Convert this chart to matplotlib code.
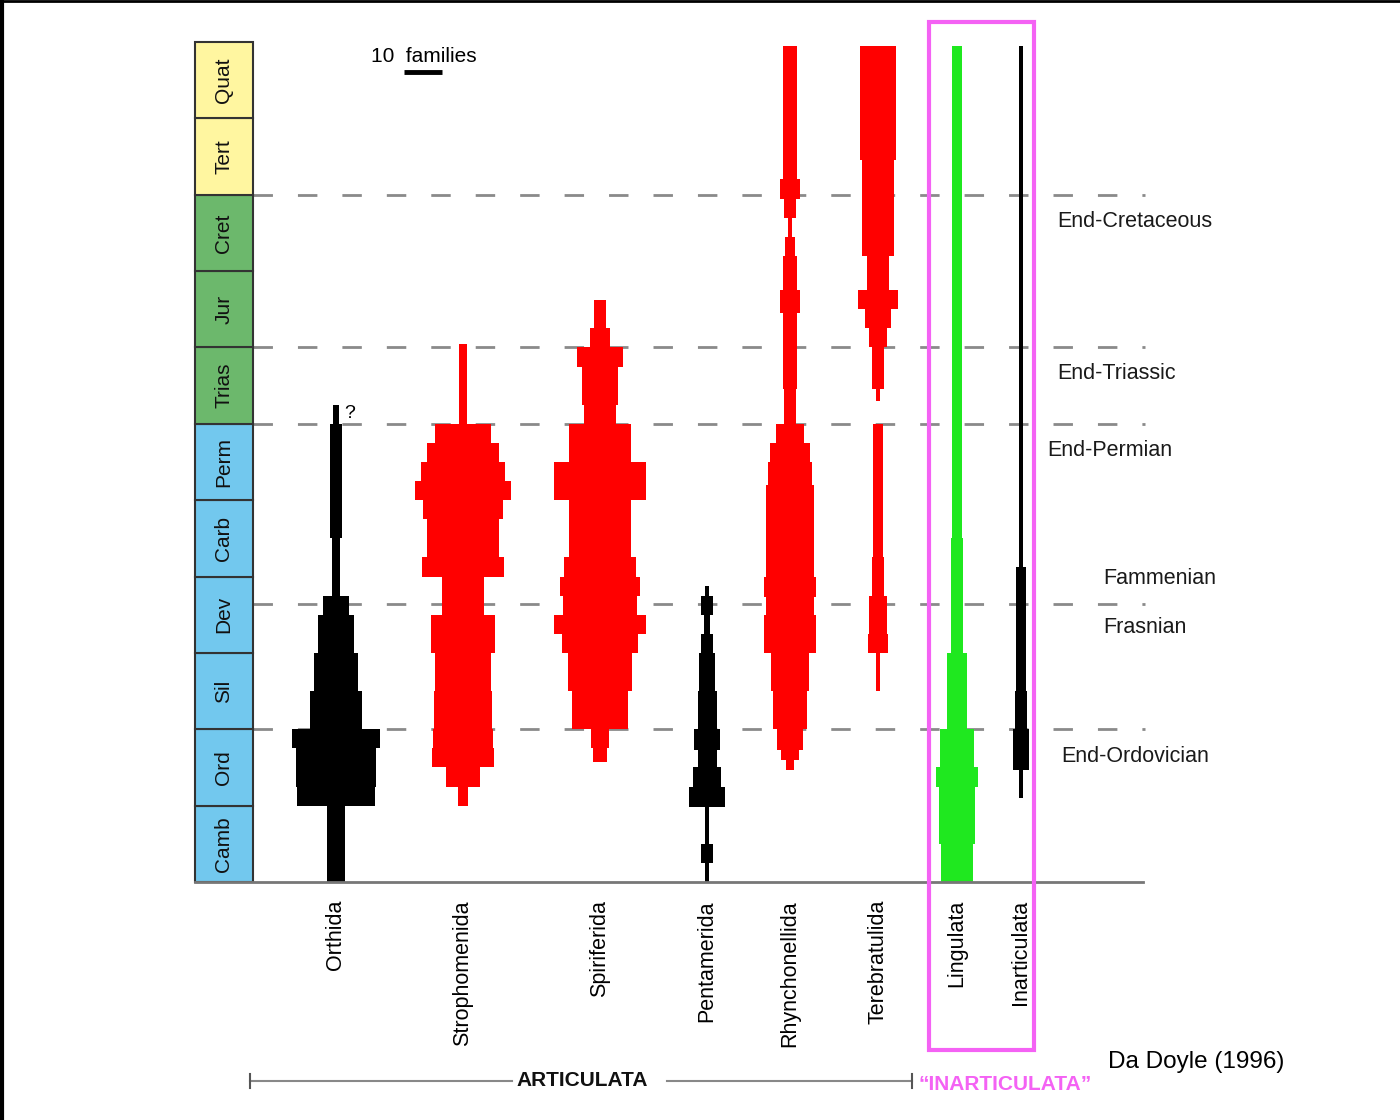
import numpy as np
import matplotlib
matplotlib.use("Agg")
import matplotlib.pyplot as plt
from matplotlib.patches import Rectangle

plt.rcParams['font.family'] = ['Liberation Sans', 'DejaVu Sans']

# ---------------- data ----------------
periods = ["Camb", "Ord", "Sil", "Dev", "Carb", "Perm", "Trias", "Jur", "Cret", "Tert", "Quat"]
period_groups = ["pal", "pal", "pal", "pal", "pal", "pal", "mes", "mes", "mes", "cen", "cen"]

clades = ["Orthida", "Strophomenida", "Spiriferida", "Pentamerida",
          "Rhynchonellida", "Terebratulida", "Lingulata", "Inarticulata"]

# boundaries in period units (0 = base of Cambrian, 11 = top of Quaternary); widths in families
orthida_t = [0, 1.0, 1.25, 1.75, 2.0, 2.5, 3.0, 3.5, 3.75, 4.5, 6.0, 6.25]
orthida_w = [4.6, 20.3, 21.1, 23.4, 13.7, 11.6, 9.5, 6.8, 2.1, 3.4, 1.8]

stroph_t = [1.0, 1.25, 1.5, 1.75, 2.0, 2.5, 3.0, 3.5, 4.0, 4.25, 4.5, 4.75, 5.0, 5.25, 5.5, 5.75, 6.0, 7.05]
stroph_w = [2.6, 9.2, 16.1, 15.8, 15.5, 14.7, 17.1, 10.8, 21.8, 18.9, 19.2, 21.1, 25.3, 22.1, 18.9, 14.7, 2.1]

spirif_t = [1.57, 1.75, 2.0, 2.5, 3.0, 3.25, 3.5, 3.75, 4.0, 4.25, 5.0, 5.5, 6.0, 6.25, 6.75, 7.0, 7.25, 7.62]
spirif_w = [3.7, 4.7, 14.7, 17.1, 20.0, 24.2, 19.7, 21.1, 18.9, 16.1, 24.2, 16.1, 8.4, 9.7, 12.0, 5.5, 3.4]

pentam_t = [0, 0.25, 0.5, 0.98, 1.24, 1.5, 1.73, 2.0, 2.5, 3.0, 3.25, 3.5, 3.75, 3.87]
pentam_w = [1.3, 3.2, 1.3, 9.5, 7.6, 5.0, 6.6, 5.0, 4.2, 2.9, 1.6, 2.9, 1.3]

rhynch_t = [1.47, 1.6, 1.73, 2.0, 2.5, 3.0, 3.5, 3.73, 4.0, 5.2, 5.5, 5.75, 6.0, 6.45, 7.45,
            7.75, 8.2, 8.45, 8.7, 8.95, 9.2, 10.95]
rhynch_w = [2.1, 4.7, 7.1, 8.7, 10.0, 13.9, 12.4, 13.9, 12.4, 11.6, 10.5, 7.6, 2.9, 3.9,
            5.5, 3.9, 2.6, 1.3, 3.2, 5.5, 3.9]

terebr_t = [2.5, 3.0, 3.25, 3.75, 4.25, 6.0, 6.3, 6.45, 7.0, 7.25, 7.5, 7.75, 8.2, 9.45, 10.95]
terebr_w = [1.1, 5.5, 4.5, 3.2, 2.4, 0.0, 1.3, 2.9, 4.5, 7.1, 10.5, 5.8, 8.2, 9.7]

lingul_t = [0, 0.5, 1.25, 1.5, 2.0, 3.0, 4.5, 10.95]
lingul_w = [8.2, 9.5, 11.3, 9.2, 5.3, 3.4, 2.6]

inartic_t = [1.1, 1.47, 2.0, 2.5, 4.13, 10.95]
inartic_w = [1.3, 4.2, 3.4, 2.6, 1.1]

clade_t = [orthida_t, stroph_t, spirif_t, pentam_t, rhynch_t, terebr_t, lingul_t, inartic_t]
clade_w = [orthida_w, stroph_w, spirif_w, pentam_w, rhynch_w, terebr_w, lingul_w, inartic_w]

extinctions = ["End-Cretaceous", "End-Triassic", "End-Permian", "Fammenian", "Frasnian", "End-Ordovician"]
dashed_levels = [9.0, 7.0, 6.0, 3.64, 2.0]
scale_bar_families = 10

# ---------------- style / layout ----------------
W, H = 1400, 1120
PX_PER_UNIT = 76.36
BASE_PY = 882
FAM = 3.8  # pixels per family
clade_x = [336, 463, 600, 707, 790, 878, 957, 1021]
clade_col = ["black", "red", "red", "black", "red", "red", "#1fe81f", "black"]
group_col = {"pal": "#72c8ee", "mes": "#6cb86c", "cen": "#fff6a0"}
MAG = "#f462f4"

fig = plt.figure(figsize=(14, 11.2), dpi=100)
ax = fig.add_axes([0, 0, 1, 1])
ax.set_xlim(0, W)
ax.set_ylim(-(H - BASE_PY) / PX_PER_UNIT, BASE_PY / PX_PER_UNIT)
ax.axis("off")

def py2y(py):
    return (BASE_PY - py) / PX_PER_UNIT

# period column
for i, (p, g) in enumerate(zip(periods, period_groups)):
    ax.add_patch(Rectangle((195, i), 58, 1, facecolor=group_col[g], edgecolor="#333333", lw=1.5, zorder=2))
    ax.text(224, i + 0.5, p, rotation=90, ha="center", va="center", fontsize=15, zorder=3, color="#111111")

# dashed boundaries
for lv in dashed_levels:
    ax.plot([253, 1145], [lv, lv], color="#8a8a8a", lw=2, dashes=(7, 9), zorder=1)

# baseline
ax.plot([195, 1143], [0, 0], color="#777777", lw=2, zorder=4)

# spindles
for x, ts, ws, c in zip(clade_x, clade_t, clade_w, clade_col):
    ts = np.asarray(ts)
    ws = np.asarray(ws)
    ax.bar(np.full(len(ws), x), np.diff(ts), bottom=ts[:-1], width=ws * FAM,
           color=c, linewidth=0, zorder=3)

# question mark on Orthida
ax.text(344, py2y(413), "?", fontsize=14, ha="left", va="center")

# scale bar
ax.text(371, py2y(56), "10  families", fontsize=15, ha="left", va="center")
ax.plot([404, 404 + scale_bar_families * FAM], [py2y(72), py2y(72)], color="black", lw=3.5, solid_capstyle="butt")

# clade labels
for x, name in zip(clade_x, clades):
    ax.text(x, py2y(900), name, rotation=90, ha="center", va="top", fontsize=15.5)

# extinction labels
ext_pos = [(1057, 221), (1057, 373), (1047, 450), (1103, 578), (1103, 627), (1061, 757)]
for (px, py), lab in zip(ext_pos, extinctions):
    ax.text(px, py2y(py), lab, fontsize=15.5, ha="left", va="center", color="#1a1a1a")

# magenta box
ax.add_patch(Rectangle((929, py2y(1050)), 105, py2y(22) - py2y(1050), fill=False, edgecolor=MAG, lw=3, zorder=5))

# ARTICULATA bracket
yb = py2y(1081)
ax.plot([250, 512], [yb, yb], color="#888888", lw=1.5)
ax.plot([667, 912], [yb, yb], color="#888888", lw=1.5)
for xx in (250, 912):
    ax.plot([xx, xx], [yb - 0.09, yb + 0.09], color="#555555", lw=1.5)
ax.text(582, yb, "ARTICULATA", fontsize=15, fontweight="bold", ha="center", va="center", color="#111111")
ax.text(918, py2y(1084), "\u201cINARTICULATA\u201d", fontsize=15, fontweight="bold", ha="left", va="center",
        color=MAG)

ax.text(1108, py2y(1062), "Da Doyle (1996)", fontsize=17.5, ha="left", va="center")

# image border (left and top)
ax.plot([1.5, 1.5], [py2y(0), py2y(H)], color="black", lw=3, clip_on=False)
ax.plot([0, W], [py2y(1), py2y(1)], color="black", lw=2, clip_on=False)

fig.savefig("out.png", dpi=100, facecolor="white")
